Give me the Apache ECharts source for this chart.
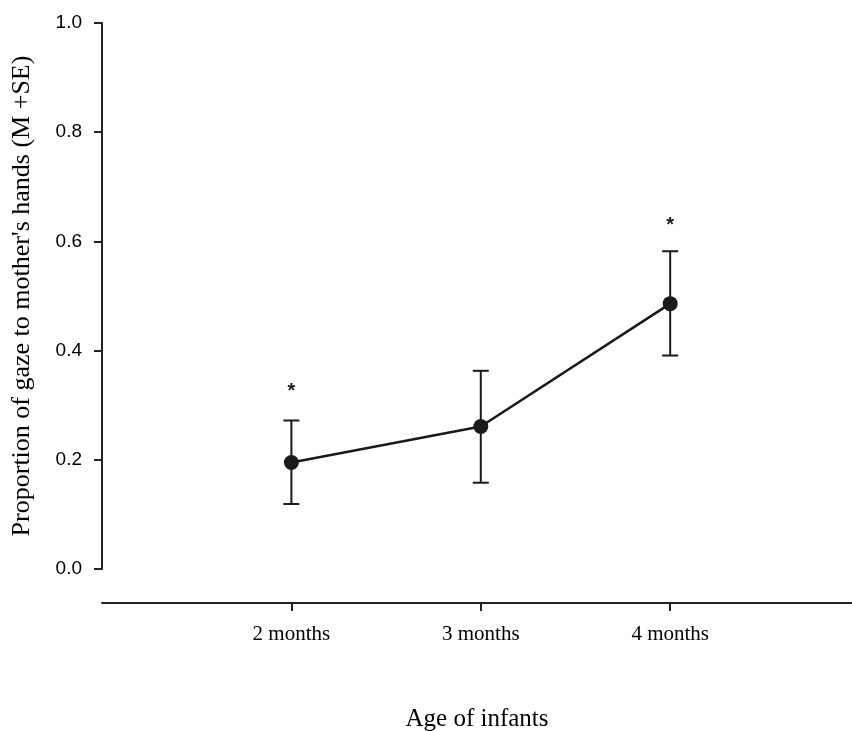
<!DOCTYPE html>
<html>
<head>
<meta charset="utf-8">
<script src="https://cdn.jsdelivr.net/npm/echarts@6/dist/echarts.min.js"></script>
<style>html,body{margin:0;padding:0;background:#fff}#c{width:852px;height:731px}</style>
</head>
<body>
<div id="c"></div>
<script>
const categories = ['2 months', '3 months', '4 months'];
const ages = [2, 3, 4];
const means = [0.195, 0.261, 0.486];
const upper = [0.272, 0.363, 0.582];
const lower = [0.119, 0.158, 0.391];
const sigMarks = ['*', '', '*'];
const sigY = [0.334, null, 0.638];
const yTicks = [0, 0.2, 0.4, 0.6, 0.8, 1.0];

const chart = echarts.init(document.getElementById('c'), null, {renderer: 'canvas'});
const lineData = ages.map((a, i) => [a, means[i]]);
const errData = ages.map((a, i) => [a, lower[i], upper[i]]);
const sigData = ages.map((a, i) => [a, sigY[i], sigMarks[i]]).filter(d => d[1] != null);

chart.setOption({
  animation: false,
  backgroundColor: '#fff',
  grid: {left: 102, right: 0, top: 23, bottom: 162, containLabel: false, outerBoundsMode: 'none'},
  xAxis: {
    type: 'value', min: 1, max: 4.96, interval: 1,
    offset: 34,
    splitLine: {show: false},
    axisLine: {show: true, onZero: false, lineStyle: {color: '#222', width: 2}},
    axisTick: {show: true, customValues: ages, length: 8, lineStyle: {color: '#222', width: 2}},
    axisLabel: {
      customValues: ages, margin: 21, color: '#000',
      fontFamily: 'Liberation Serif', fontSize: 21,
      formatter: v => categories[ages.indexOf(v)] || ''
    },
    name: 'Age of infants', nameLocation: 'middle', nameGap: 104,
    nameTextStyle: {fontFamily: 'Liberation Serif', fontSize: 25, color: '#000'}
  },
  yAxis: {
    type: 'value', min: 0, max: 1, interval: 0.2,
    splitLine: {show: false},
    axisLine: {show: true, onZero: false, lineStyle: {color: '#222', width: 2}},
    axisTick: {show: true, length: 8, lineStyle: {color: '#222', width: 2}},
    axisLabel: {
      customValues: yTicks,
      margin: 20, color: '#000', fontFamily: 'Liberation Sans', fontSize: 19,
      formatter: v => v.toFixed(1)
    },
    name: "Proportion of gaze to mother's hands (M +SE)", nameLocation: 'middle', nameGap: 67,
    nameTextStyle: {fontFamily: 'Liberation Serif', fontSize: 26, color: '#000'}
  },
  series: [
    {
      type: 'custom',
      data: errData,
      z: 2,
      renderItem: function (params, api) {
        const x = api.value(0);
        const lo = api.coord([x, api.value(1)]);
        const hi = api.coord([x, api.value(2)]);
        const hw = 8;
        const st = {stroke: '#1a1a1a', lineWidth: 2};
        return {
          type: 'group',
          children: [
            {type: 'line', shape: {x1: lo[0], y1: lo[1], x2: hi[0], y2: hi[1]}, style: st},
            {type: 'line', shape: {x1: hi[0] - hw, y1: hi[1], x2: hi[0] + hw, y2: hi[1]}, style: st},
            {type: 'line', shape: {x1: lo[0] - hw, y1: lo[1], x2: lo[0] + hw, y2: lo[1]}, style: st}
          ]
        };
      }
    },
    {
      type: 'line',
      data: lineData,
      z: 3,
      symbol: 'circle', symbolSize: 15,
      lineStyle: {color: '#1a1a1a', width: 2.5},
      itemStyle: {color: '#1a1a1a'}
    },
    {
      type: 'custom',
      data: sigData,
      z: 4,
      renderItem: function (params, api) {
        const p = api.coord([api.value(0), api.value(1)]);
        return {
          type: 'text',
          style: {
            text: sigMarks[ages.indexOf(api.value(0))],
            x: p[0], y: p[1] + 5,
            align: 'center', verticalAlign: 'middle',
            font: 'bold 20px "Liberation Sans"', fill: '#1a1a1a'
          }
        };
      }
    }
  ]
});
</script>
</body>
</html>
